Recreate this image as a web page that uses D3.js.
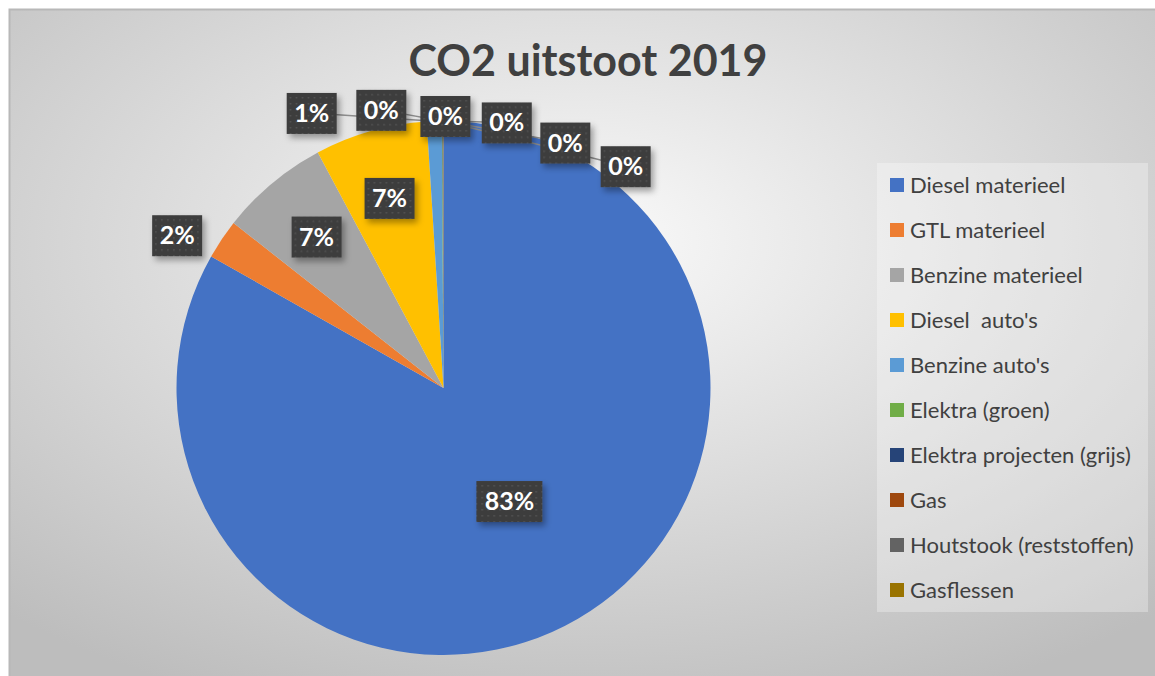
<!DOCTYPE html>
<html>
<head>
<meta charset="utf-8">
<script src="https://cdn.jsdelivr.net/npm/d3@7"></script>
<style>
  body { margin: 0; background: #ffffff; }
  svg { display: block; font-family: Lato, "Open Sans", sans-serif; }
  text { white-space: pre; }
</style>
</head>
<body>
<div id="chart"></div>
<script>
// Chart data
const categories = [
  "Diesel materieel", "GTL materieel", "Benzine materieel", "Diesel  auto's",
  "Benzine auto's", "Elektra (groen)", "Elektra projecten (grijs)", "Gas",
  "Houtstook (reststoffen)", "Gasflessen"
];
const values = [83.2, 2.4, 6.6, 6.8, 0.9, 0.04, 0.02, 0.02, 0.01, 0.01];
const labels = ["83%", "2%", "7%", "7%", "1%", "0%", "0%", "0%", "0%", "0%"];
const colors = [
  "#4472C4", "#ED7D31", "#A5A5A5", "#FFC000", "#5B9BD5",
  "#70AD47", "#264478", "#9E480E", "#636363", "#997300"
];
const title = "CO2 uitstoot 2019";

const width = 1155, height = 676;
const cx = 443.5, cy = 388, r = 267;

const svg = d3.select("#chart").append("svg")
  .attr("width", width).attr("height", height);

const defs = svg.append("defs");

// Background gradient
const bg = defs.append("radialGradient")
  .attr("id", "bg").attr("cx", "50%").attr("cy", "35%").attr("r", "75%");
bg.append("stop").attr("offset", "0%").attr("stop-color", "#fafafa");
bg.append("stop").attr("offset", "100%").attr("stop-color", "#bdbdbd");

// Dotted pattern for the label boxes
const pat = defs.append("pattern")
  .attr("id", "dots").attr("patternUnits", "userSpaceOnUse")
  .attr("width", 6).attr("height", 6);
pat.append("rect").attr("width", 6).attr("height", 6).attr("fill", "#3d3d3d");
pat.append("rect").attr("x", 2).attr("y", 2).attr("width", 1.5).attr("height", 1.5)
  .attr("fill", "#555555");

const shadow = defs.append("filter").attr("id", "shadow")
  .attr("x", "-30%").attr("y", "-30%").attr("width", "160%").attr("height", "170%");
shadow.append("feDropShadow").attr("dx", 3).attr("dy", 4)
  .attr("stdDeviation", 3).attr("flood-color", "#000").attr("flood-opacity", 0.35);

// Chart area
svg.append("rect")
  .attr("x", 9).attr("y", 9).attr("width", width - 9).attr("height", height - 9)
  .attr("fill", "url(#bg)");
svg.append("path")
  .attr("d", `M9.5,${height}V9.5H${width}`)
  .attr("fill", "none").attr("stroke", "#b8b8b8").attr("stroke-width", 2);

// Title
svg.append("text")
  .attr("x", 588).attr("y", 76)
  .attr("text-anchor", "middle")
  .attr("font-size", "43px").attr("font-weight", "bold")
  .attr("fill", "#404040")
  .text(title);

// Pie
const data = categories.map((c, i) => ({ name: c, value: values[i], label: labels[i], color: colors[i] }));
const pie = d3.pie().value(d => d.value).sort(null);
const arcs = pie(data);
const arc = d3.arc().innerRadius(0).outerRadius(r);

const g = svg.append("g").attr("transform", `translate(${cx},${cy})`);
g.selectAll("path.slice")
  .data(arcs)
  .enter().append("path")
  .attr("class", "slice")
  .attr("d", arc)
  .attr("fill", d => d.data.color);

// Label positions
const total = d3.sum(values);
let fanIndex = 0;
arcs.forEach(d => {
  const pct = d.data.value / total;
  const mid = (d.startAngle + d.endAngle) / 2;
  let rr, ang;
  if (pct > 0.5) { rr = 0.49 * r; ang = mid; }
  else if (pct > 0.05) { rr = 0.74 * r; ang = mid; }
  else if (pct > 0.015) { rr = 1.15 * r; ang = mid - 4 * Math.PI / 180; }
  else {
    // small slices fanned out along the top
    ang = (-25.6 + fanIndex * 13) * Math.PI / 180;
    rr = r + [38, 18, 5, 6, 7, 20][fanIndex];
    fanIndex++;
    d.leader = true;
  }
  d.lx = Math.sin(ang) * rr;
  d.ly = -Math.cos(ang) * rr;
  d.ex = Math.sin(mid) * r;
  d.ey = -Math.cos(mid) * r;
});

// Leader lines
g.selectAll("line.leader")
  .data(arcs.filter(d => d.leader))
  .enter().append("line")
  .attr("class", "leader")
  .attr("x1", d => d.lx).attr("y1", d => d.ly)
  .attr("x2", d => d.ex).attr("y2", d => d.ey)
  .attr("stroke", "#8c8c8c").attr("stroke-width", 1.5);

const lab = g.selectAll("g.lab")
  .data(arcs)
  .enter().append("g")
  .attr("class", "lab")
  .attr("transform", d => `translate(${d.lx},${d.ly})`);

lab.append("rect")
  .attr("x", d => d.data.label.length > 2 ? -33 : -25)
  .attr("y", -20)
  .attr("width", d => d.data.label.length > 2 ? 66 : 50)
  .attr("height", 41)
  .attr("fill", "url(#dots)")
  .attr("filter", "url(#shadow)");

lab.append("text")
  .attr("text-anchor", "middle")
  .attr("dy", "0.36em")
  .attr("font-size", "25px").attr("font-weight", "bold")
  .attr("fill", "#ffffff")
  .text(d => d.data.label);

// Legend
const legend = svg.append("g");
legend.append("rect")
  .attr("x", 877).attr("y", 163).attr("width", 271).attr("height", 449)
  .attr("fill", "#ffffff").attr("fill-opacity", 0.3);

const ly = d3.scalePoint().domain(categories).range([185, 590]);
const item = legend.selectAll("g.item")
  .data(data)
  .enter().append("g")
  .attr("class", "item")
  .attr("transform", d => `translate(890,${ly(d.name)})`);
item.append("rect")
  .attr("x", 0).attr("y", -7).attr("width", 14).attr("height", 14)
  .attr("fill", d => d.color);
item.append("text")
  .attr("x", 20).attr("dy", "0.36em")
  .attr("font-size", "22px").attr("fill", "#404040")
  .text(d => d.name);
</script>
</body>
</html>
